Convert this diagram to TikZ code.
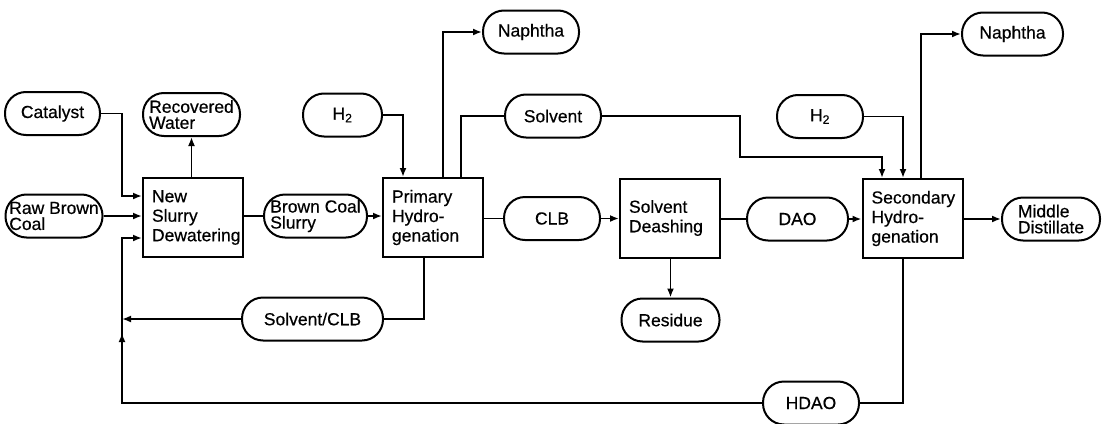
\documentclass[tikz,border=0pt]{standalone}
\usepackage{fontspec}
\setmainfont[FakeBold=0.5]{Liberation Sans}
\usetikzlibrary{arrows.meta}
\begin{document}
\begin{tikzpicture}[x=1pt,y=-1pt,
 every node/.style={font=\fontsize{17.5}{16}\selectfont},
 stad/.style={draw, line width=2pt, rounded corners=21pt, minimum height=43pt, inner sep=0pt, align=left},
 proc/.style={draw, line width=2pt, minimum width=100pt, minimum height=79pt, inner sep=0pt, text width=82pt, align=left, font=\fontsize{17.5}{19.5}\selectfont},
 ln/.style={line width=1.9pt},
 thk/.style={line width=2.9pt},
 tip/.style={-{Latex[length=9pt,width=7pt]}},
]
\useasboundingbox (0,0) rectangle (1105,423);
\node[stad, minimum width=95pt] (cat) at (52.5,113.5) {Catalyst};
\node[stad, minimum width=97pt] (raw) at (54,216) {Raw Brown\\Coal};
\node[stad, minimum width=97pt] (rw) at (191.5,114.5) {Recovered\\Water};
\node[proc] (dew) at (193,217.5) {New\\Slurry\\Dewatering};
\node[stad, minimum width=103pt] (bcs) at (315.5,216) {Brown Coal\\Slurry};
\node[stad, minimum width=79pt] (h2a) at (342.5,115) {H\textsubscript{2}};
\node[proc] (pri) at (433,217.5) {Primary\\Hydro-\\genation};
\node[stad, minimum width=96pt] (nap1) at (531,32) {Naphtha};
\node[stad, minimum width=96pt] (solv) at (553,116) {Solvent};
\node[stad, minimum width=96pt] (clb) at (552,218.5) {CLB};
\node[proc] (desh) at (670,218) {Solvent\\Deashing};
\node[stad, minimum width=98pt] (res) at (670.5,320) {Residue};
\node[stad, minimum width=141pt] (scl) at (312.5,319) {Solvent/CLB};
\node[stad, minimum width=101pt] (dao) at (797.5,219) {DAO};
\node[stad, minimum width=86pt] (h2b) at (820,116.5) {H\textsubscript{2}};
\node[proc] (sec) at (912.5,218.5) {Secondary\\Hydro-\\genation};
\node[stad, minimum width=101pt] (nap2) at (1012.5,34) {Naphtha};
\node[stad, minimum width=98pt] (mid) at (1051,219) {Middle\\Distillate};
\node[stad, minimum width=96pt] (hdao) at (811,403) {HDAO};

\coordinate (c1) at (122,196);
\coordinate (rb) at (122,403);
\coordinate (rm) at (122,333);
\coordinate (rt) at (122,238);
\coordinate (pb) at (424,319);
\coordinate (h2c) at (403,116);
\coordinate (n1) at (443,32);
\coordinate (s1) at (461,116);
\coordinate (s2) at (740,116);
\coordinate (s3) at (740,157);
\coordinate (s4) at (882,157);
\coordinate (h2d) at (903,116.5);
\coordinate (n2) at (921,34);
\coordinate (hb) at (903,403);

\draw[ln,tip] (cat.east) -| (c1) -- (c1 -| dew.west);
\draw[thk,tip] (raw.east) -- (raw.east -| dew.west);
\draw[ln,tip] (hdao.west) -- (rb) -- (rt) -- (rt -| dew.west);
\draw[ln,tip] (rb) -- (rm);
\draw[ln] (pri.south -| pb) -- (pb) -- (scl.east);
\draw[ln,tip] (scl.west) -- (scl.west -| rb);
\draw[ln,tip] (rw.south |- dew.north) -- (rw.south);
\draw[ln] (dew.east |- bcs.west) -- (bcs.west);
\draw[ln,tip] (bcs.east) -- (bcs.east -| pri.west);
\draw[ln,tip] (h2a.east) -| (pri.north -| h2c);
\draw[thk,tip] (pri.north -| n1) -- (n1) -- (nap1.west);
\draw[ln] (pri.north -| s1) -- (s1) -- (solv.west);
\draw[ln,tip] (solv.east) -- (s2) -- (s3) -- (s4) -- (sec.north -| s4);
\draw[ln] (pri.east |- clb.west) -- (clb.west);
\draw[ln,tip] (clb.east) -- (clb.east -| desh.west);
\draw[ln,tip] (desh.south -| res.north) -- (res.north);
\draw[ln] (desh.east |- dao.west) -- (dao.west);
\draw[ln,tip] (dao.east) -- (dao.east -| sec.west);
\draw[ln,tip] (h2b.east) -| (sec.north -| h2d);
\draw[thk,tip] (sec.north -| n2) -- (n2) -- (nap2.west);
\draw[ln,tip] (sec.east |- mid.west) -- (mid.west);
\draw[ln] (sec.south -| hb) -- (hb) -- (hdao.east);
\end{tikzpicture}
\end{document}
